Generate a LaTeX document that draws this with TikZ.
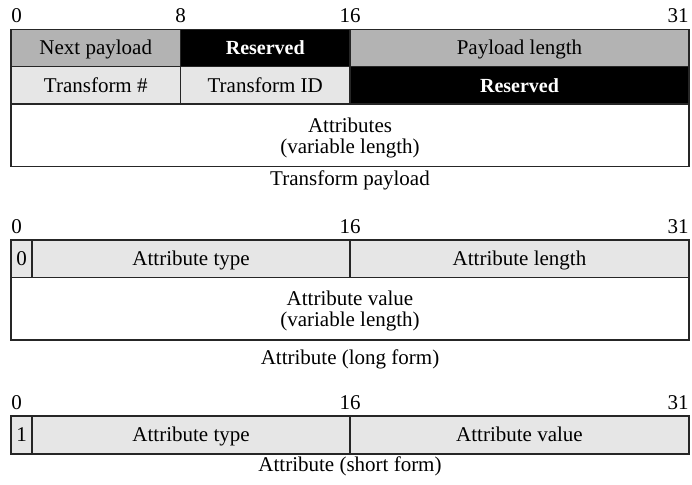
\documentclass[tikz,border=0pt]{standalone}
\usepackage{fontspec}
\setmainfont{Liberation Serif}
\definecolor{midgray}{HTML}{B3B3B3}
\definecolor{lightgray}{HTML}{E6E6E6}
\definecolor{edge}{HTML}{262626}
\tikzset{
  cell/.style={draw=edge, line width=0.75pt, inner sep=0pt, outer sep=0pt,
               text height=0.9em, text depth=0.233em, anchor=center},
  midcell/.style={cell, fill=midgray},
  litecell/.style={cell, fill=lightgray},
  blackcell/.style={cell, fill=black, text=white, font=\bfseries},
  whitecell/.style={cell, fill=white},
  multitext/.style={align=center, inner sep=0pt},
  bitlabel/.style={inner sep=0pt, anchor=base},
  caption/.style={inner sep=0pt, anchor=base}
}
% #1 name, #2 first bit, #3 end bit, #4 top y, #5 bottom y, #6 style, #7 text
\newcommand\fcell[7]{%
  \pgfmathsetmacro\xa{11+21.1875*#2}%
  \pgfmathsetmacro\xb{11+21.1875*#3}%
  \node[#6, minimum width={(#3-#2)*10.59375pt}, minimum height={(#5-#4)*0.5pt}]
    (#1) at ({(\xa+\xb)/2},{(#4+#5)/2}) {#7};%
}
\begin{document}
\begin{tikzpicture}[x=0.5pt,y=-0.5pt, font=\fontsize{10.5pt}{10.6pt}\selectfont]
\useasboundingbox (0,0) rectangle (692,484);

% ---------- Transform payload ----------
\node[bitlabel, anchor=base west] (ta0) at (11,22.5) {0};
\node[bitlabel] (ta8) at (180.5,22.5) {8};
\node[bitlabel] (ta16) at (350,22.5) {16};
\node[bitlabel, anchor=base east] (ta31) at (689,22.5) {31};

\fcell{np}{0}{8}{29.3}{66.7}{midcell}{Next payload}
\fcell{resa}{8}{16}{29.3}{66.7}{blackcell}{Reserved}
\fcell{plen}{16}{32}{29.3}{66.7}{midcell}{Payload length}
\fcell{tnum}{0}{8}{66.7}{104}{litecell}{Transform \#}
\fcell{tid}{8}{16}{66.7}{104}{litecell}{Transform ID}
\fcell{resb}{16}{32}{66.7}{104}{blackcell}{Reserved}
\fcell{attrs}{0}{32}{104}{166.7}{whitecell}{}
\node[multitext] (attrstext) at (350,138) {Attributes\\(variable length)};
\node[caption] (cap1) at (350,185) {Transform payload};

% ---------- Attribute (long form) ----------
\node[bitlabel, anchor=base west] (la0) at (11,233.2) {0};
\node[bitlabel] (la16) at (350,233.2) {16};
\node[bitlabel, anchor=base east] (la31) at (689,233.2) {31};

\fcell{lbit}{0}{1}{240}{277.3}{litecell}{0}
\fcell{ltype}{1}{16}{240}{277.3}{litecell}{Attribute type}
\fcell{llen}{16}{32}{240}{277.3}{litecell}{Attribute length}
\fcell{lval}{0}{32}{277.3}{340}{whitecell}{}
\node[multitext] (lvaltext) at (350,311) {Attribute value\\(variable length)};
\node[caption] (cap2) at (350,364.5) {Attribute (long form)};

% ---------- Attribute (short form) ----------
\node[bitlabel, anchor=base west] (sa0) at (11,409.3) {0};
\node[bitlabel] (sa16) at (350,409.3) {16};
\node[bitlabel, anchor=base east] (sa31) at (689,409.3) {31};

\fcell{sbit}{0}{1}{416}{454}{litecell}{1}
\fcell{stype}{1}{16}{416}{454}{litecell}{Attribute type}
\fcell{sval}{16}{32}{416}{454}{litecell}{Attribute value}
\node[caption] (cap3) at (350,471.5) {Attribute (short form)};
\end{tikzpicture}
\end{document}
